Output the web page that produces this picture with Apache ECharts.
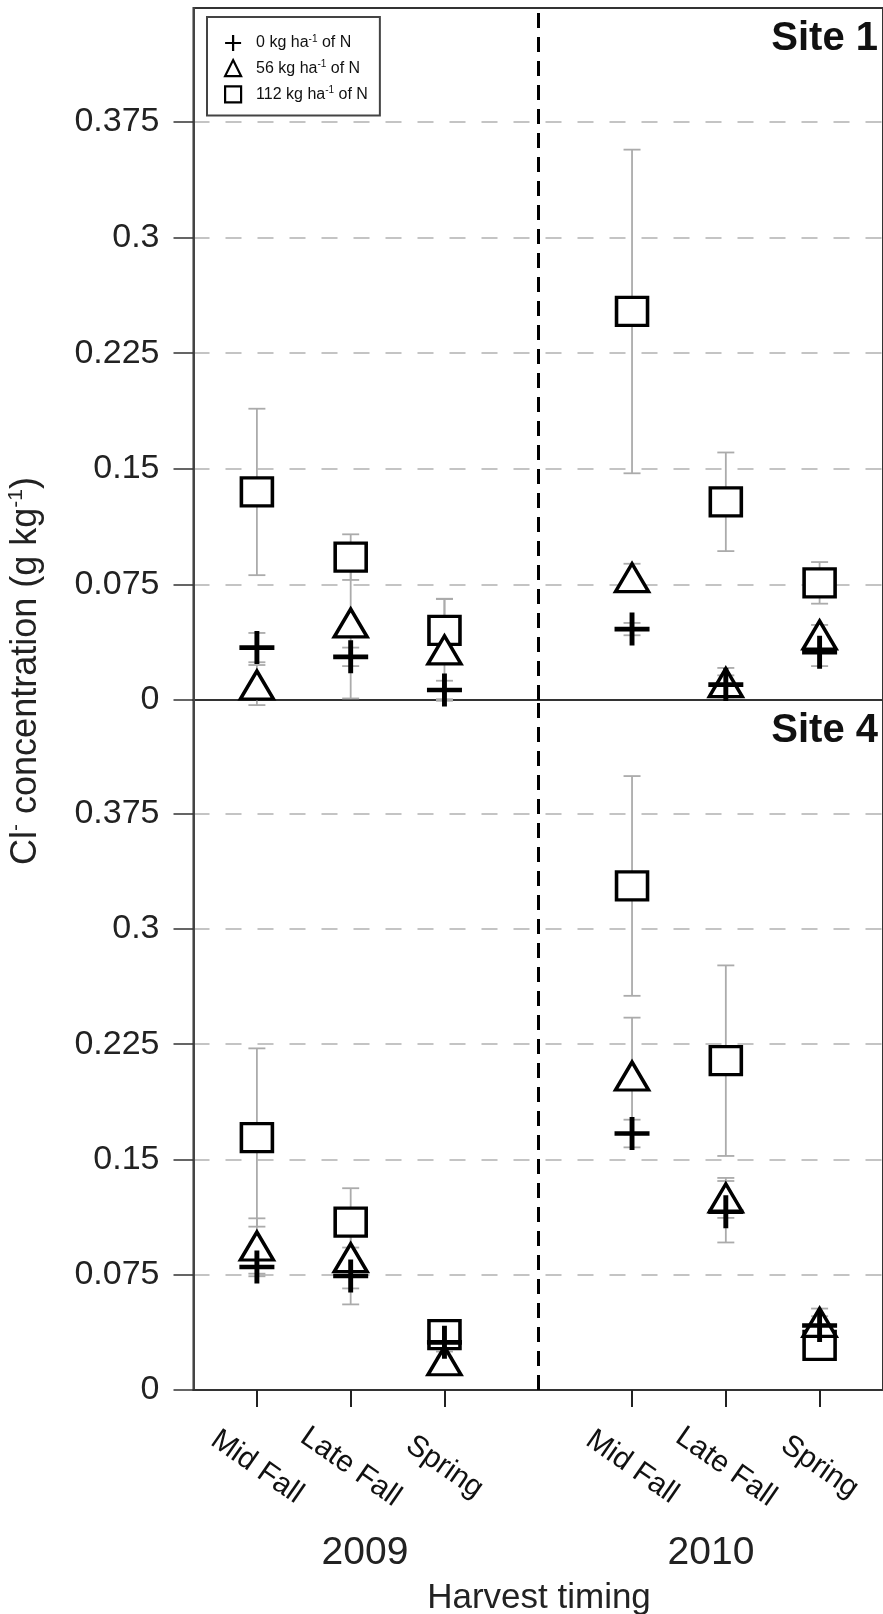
<!DOCTYPE html>
<html>
<head>
<meta charset="utf-8">
<script src="https://cdn.jsdelivr.net/npm/echarts@6/dist/echarts.min.js"></script>
<style>
html,body{margin:0;padding:0;background:#fff;}
#chart{width:883px;height:1614px;}
</style>
</head>
<body>
<div id="chart"></div>
<script>
// ---- data ----
const xPos = [1, 2, 3, 5, 6, 7];
const timingLabels = ['Mid Fall', 'Late Fall', 'Spring', 'Mid Fall', 'Late Fall', 'Spring'];
const yearLabels = ['2009', '2010'];
const yTickValues = [0, 0.075, 0.15, 0.225, 0.3, 0.375];
const doses = ['0', '56', '112'];
const siteLabels = ['Site 1', 'Site 4'];

// Site 1
const site1N0 = [0.034, 0.028, 0.0065, 0.046, 0.010, 0.031];
const site1N0Err = [0.0095, 0.006, 0.006, 0.004, 0.006, 0.009];
const site1N56 = [0.0097, 0.050, 0.0325, 0.0794, 0.0113, 0.0422];
const site1N56Err = [0.013, 0.049, 0.033, 0.009, 0.0095, 0.0065];
const site1N112 = [0.135, 0.0927, 0.0452, 0.2521, 0.1286, 0.076];
const site1N112Err = [0.054, 0.0148, 0.0205, 0.105, 0.032, 0.0135];

// Site 4
const site4N0 = [0.080, 0.0742, 0.031, 0.1669, 0.116, 0.042];
const site4N0Err = [0.006, 0.0185, 0.010, 0.009, 0.020, 0.006];
const site4N56 = [0.0937, 0.0861, 0.019, 0.2043, 0.125, 0.044];
const site4N56Err = [0.018, 0.020, 0.006, 0.038, 0.013, 0.009];
const site4N112 = [0.1643, 0.1093, 0.036, 0.328, 0.2143, 0.029];
const site4N112Err = [0.058, 0.022, 0.007, 0.0715, 0.062, 0.005];

// ---- chart ----
const FONT = "'Liberation Sans', Arial, Helvetica, sans-serif";
const plusPath = 'path://M-1,-0.14L-0.14,-0.14L-0.14,-1L0.14,-1L0.14,-0.14L1,-0.14L1,0.14L0.14,0.14L0.14,1L-0.14,1L-0.14,0.14L-1,0.14Z';

const sites = [
  { vals: [site1N0, site1N56, site1N112], errs: [site1N0Err, site1N56Err, site1N112Err] },
  { vals: [site4N0, site4N56, site4N112], errs: [site4N0Err, site4N56Err, site4N112Err] }
];

const symbols = [
  { symbol: plusPath, size: [35, 33], style: { color: '#000', borderWidth: 0 } },
  { symbol: 'triangle', size: [33, 28], style: { color: '#fff', borderColor: '#000', borderWidth: 3.4 } },
  { symbol: 'rect', size: [31, 28], style: { color: '#fff', borderColor: '#000', borderWidth: 3.4 } }
];

const seriesName = d => d + ' kg ha-1 of N';

const series = [];
sites.forEach((site, g) => {
  // error bars
  const errData = [];
  [2, 1, 0].forEach(k => {
    xPos.forEach((x, i) => errData.push([x, site.vals[k][i], site.errs[k][i]]));
  });
  series.push({
    type: 'custom',
    xAxisIndex: g, yAxisIndex: g,
    silent: true,
    z: 1,
    encode: { x: 0, y: 1 },
    data: errData,
    renderItem: function (params, api) {
      const x = api.value(0), y = api.value(1), e = api.value(2);
      const t = api.coord([x, y + e]);
      const b = api.coord([x, y - e]);
      const hw = 8.5;
      const st = { stroke: '#ababab', lineWidth: 1.8 };
      return {
        type: 'group',
        children: [
          { type: 'line', shape: { x1: t[0], y1: t[1], x2: b[0], y2: b[1] }, style: st },
          { type: 'line', shape: { x1: t[0] - hw, y1: t[1], x2: t[0] + hw, y2: t[1] }, style: st },
          { type: 'line', shape: { x1: b[0] - hw, y1: b[1], x2: b[0] + hw, y2: b[1] }, style: st }
        ]
      };
    }
  });
  // markers: square, triangle, plus (plus on top)
  [2, 1, 0].forEach(k => {
    const s = {
      type: 'scatter',
      name: seriesName(doses[k]),
      xAxisIndex: g, yAxisIndex: g,
      symbol: symbols[k].symbol,
      symbolSize: symbols[k].size,
      itemStyle: Object.assign({ opacity: 1 }, symbols[k].style),
      z: 3,
      silent: true,
      data: xPos.map((x, i) => [x, site.vals[k][i]])
    };
    if (k === 2) {
      s.markLine = {
        silent: true,
        symbol: ['none', 'none'],
        label: { show: false },
        lineStyle: { color: '#000', width: 3, type: [15, 9] },
        data: [{ xAxis: 4 }],
        z: 2
      };
    }
    series.push(s);
  });
});

const gridTop = [8, 700];
const gridH = [692, 690];

function makeY(g) {
  return {
    type: 'value', gridIndex: g, min: 0, max: 0.449, interval: 0.075,
    axisLine: { show: true, lineStyle: { color: '#444', width: 2 } },
    axisTick: { show: true, inside: false, length: 20, customValues: yTickValues, lineStyle: { color: '#333', width: 1.5 } },
    axisLabel: {
      show: true, margin: 34, fontSize: 34, fontFamily: FONT, color: '#222',
      customValues: yTickValues,
      formatter: v => String(+v.toFixed(3))
    },
    splitLine: { show: true, showMinLine: false, lineStyle: { color: '#c4c4c4', width: 2, type: [16, 16] } }
  };
}

function makeX(g) {
  const ax = {
    type: 'value', gridIndex: g, min: 0.324, max: 7.676,
    splitLine: { show: false },
    axisLine: { show: g === 1, onZero: false, lineStyle: { color: '#333', width: 2 } },
    axisTick: { show: false },
    axisLabel: { show: false }
  };
  if (g === 1) {
    ax.axisTick = { show: true, customValues: xPos, length: 17, inside: false, lineStyle: { color: '#222', width: 2 } };
    ax.axisLabel = {
      show: true, customValues: xPos, rotate: -35, margin: 77,
      align: 'center', verticalAlign: 'middle',
      fontSize: 30, fontFamily: FONT, color: '#111',
      formatter: v => {
        const i = xPos.indexOf(Math.round(v));
        return i >= 0 ? timingLabels[i] : '';
      }
    };
  }
  return ax;
}

const option = {
  backgroundColor: '#fff',
  animation: false,
  grid: [0, 1].map(g => ({
    left: 193.5, width: 693.5, top: gridTop[g], height: gridH[g],
    show: true, borderColor: '#333', borderWidth: 2, backgroundColor: 'transparent'
  })),
  xAxis: [makeX(0), makeX(1)],
  yAxis: [makeY(0), makeY(1)],
  legend: {
    show: true,
    orient: 'vertical',
    left: 207, top: 17,
    padding: [17, 12, 12, 17],
    itemWidth: 16, itemHeight: 16, itemGap: 8,
    borderColor: '#444', borderWidth: 2, backgroundColor: '#fff',
    selectedMode: false,
    data: doses.map(seriesName),
    itemStyle: { borderWidth: 2.2 },
    formatter: name => {
      const d = name.split(' ')[0];
      return '{t|' + d + ' kg ha}{s|-1}{t| of N}';
    },
    textStyle: {
      padding: [0, 0, 0, 10],
      rich: {
        t: { fontSize: 16, fontFamily: FONT, color: '#111', lineHeight: 18 },
        s: { fontSize: 10, fontFamily: FONT, color: '#111', lineHeight: 10, verticalAlign: 'top' }
      }
    }
  },
  graphic: [
    {
      type: 'text', x: 878, y: 39, z: 10,
      style: { text: siteLabels[0], align: 'right', verticalAlign: 'middle', font: 'bold 40px ' + FONT, fill: '#111' }
    },
    {
      type: 'text', x: 878, y: 731, z: 10,
      style: { text: siteLabels[1], align: 'right', verticalAlign: 'middle', font: 'bold 40px ' + FONT, fill: '#111' }
    },
    {
      type: 'text', x: 365, y: 1553,
      style: { text: yearLabels[0], align: 'center', verticalAlign: 'middle', font: '39px ' + FONT, fill: '#222' }
    },
    {
      type: 'text', x: 711, y: 1553,
      style: { text: yearLabels[1], align: 'center', verticalAlign: 'middle', font: '39px ' + FONT, fill: '#222' }
    },
    {
      type: 'text', x: 539, y: 1598,
      style: { text: 'Harvest timing', align: 'center', verticalAlign: 'middle', font: '35px ' + FONT, fill: '#222' }
    },
    {
      type: 'text', x: 26, y: 671, rotation: Math.PI / 2,
      style: {
        text: '{t|Cl}{s|-}{t| concentration (g kg}{s|-1}{t|)}',
        align: 'center', verticalAlign: 'middle',
        rich: {
          t: { fontSize: 36, fontFamily: FONT, fill: '#222', lineHeight: 40 },
          s: { fontSize: 21, fontFamily: FONT, fill: '#222', lineHeight: 21, verticalAlign: 'top' }
        }
      }
    }
  ],
  series: series
};

const chart = echarts.init(document.getElementById('chart'), null, { renderer: 'canvas', width: 883, height: 1614 });
chart.setOption(option);
</script>
</body>
</html>
